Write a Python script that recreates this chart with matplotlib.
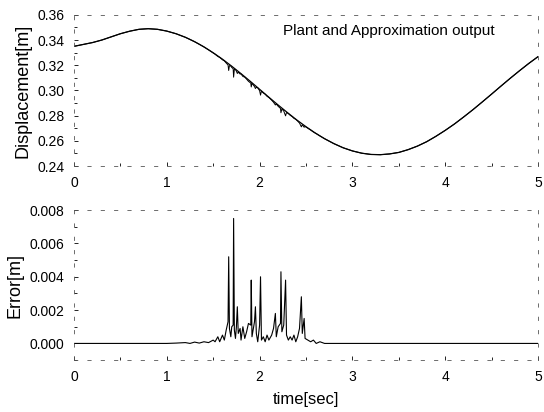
import matplotlib
matplotlib.use("Agg")
import matplotlib.pyplot as plt
import numpy as np
from matplotlib.ticker import MultipleLocator

plt.rcParams['font.family'] = ['Liberation Sans', 'DejaVu Sans']

# plant output, every 0.1 s
plant_t = [0.0, 0.1, 0.2, 0.3, 0.4, 0.5, 0.6, 0.7, 0.8, 0.9,
           1.0, 1.1, 1.2, 1.3, 1.4, 1.5, 1.6, 1.7, 1.8, 1.9,
           2.0, 2.1, 2.2, 2.3, 2.4, 2.5, 2.6, 2.7, 2.8, 2.9,
           3.0, 3.1, 3.2, 3.3, 3.4, 3.5, 3.6, 3.7, 3.8, 3.9,
           4.0, 4.1, 4.2, 4.3, 4.4, 4.5, 4.6, 4.7, 4.8, 4.9, 5.0]
plant_y = [0.3350, 0.3365, 0.3380, 0.3400, 0.3425, 0.3450, 0.3470, 0.3485, 0.3490, 0.3485,
           0.3471, 0.3450, 0.3422, 0.3387, 0.3346, 0.3299, 0.3248, 0.3192, 0.3133, 0.3072,
           0.3009, 0.2946, 0.2884, 0.2824, 0.2766, 0.2712, 0.2662, 0.2617, 0.2578, 0.2545,
           0.2520, 0.2502, 0.2492, 0.2490, 0.2496, 0.2508, 0.2530, 0.2558, 0.2593, 0.2636,
           0.2683, 0.2734, 0.2790, 0.2848, 0.2909, 0.2971, 0.3034, 0.3096, 0.3156, 0.3214, 0.3268]

# approximation error
err_t = [0.0, 0.5, 1.0, 1.1, 1.2, 1.25, 1.3, 1.35, 1.4, 1.45,
         1.5, 1.52, 1.55, 1.57, 1.6, 1.62, 1.64, 1.66, 1.667, 1.675,
         1.69, 1.70, 1.715, 1.72, 1.728, 1.74, 1.75, 1.76, 1.77, 1.79,
         1.80, 1.82, 1.84, 1.86, 1.88, 1.905, 1.91, 1.918, 1.93, 1.945,
         1.955, 1.965, 1.98, 2.00, 2.01, 2.02, 2.04, 2.06, 2.08, 2.10,
         2.13, 2.15, 2.17, 2.18, 2.20, 2.225, 2.23, 2.24, 2.26, 2.28,
         2.29, 2.31, 2.33, 2.35, 2.37, 2.39, 2.41, 2.43, 2.45, 2.46,
         2.48, 2.49, 2.52, 2.55, 2.58, 2.61, 2.65, 2.7, 5.0]
err_v = [0.0, 0.0, 0.0, 0.00002, 0.00005, 0.0, 0.00008, 0.00002, 0.0001, 0.00005,
         0.0002, 0.0001, 0.0004, 0.0001, 0.0005, 0.0002, 0.0008, 0.0013, 0.0052, 0.0009,
         0.0004, 0.0010, 0.0011, 0.0075, 0.0008, 0.0003, 0.0010, 0.0022, 0.0006, 0.0009,
         0.0002, 0.0010, 0.0003, 0.0007, 0.0012, 0.0011, 0.0038, 0.0004, 0.0008, 0.0013,
         0.0022, 0.0006, 0.0001, 0.0011, 0.0040, 0.0002, 0.0004, 0.0001, 0.0005, 0.0002,
         0.0005, 0.0009, 0.0018, 0.0004, 0.0010, 0.0012, 0.0043, 0.0007, 0.0011, 0.0038,
         0.0005, 0.0002, 0.0004, 0.0002, 0.0005, 0.0001, 0.0004, 0.0009, 0.0028, 0.0006,
         0.0015, 0.0003, 0.0002, 0.0001, 0.0002, 0.0, 0.0001, 0.0, 0.0]

# approximation = plant minus error, on the union of both time grids
t_all = np.union1d(plant_t, err_t)
approx_y = np.interp(t_all, plant_t, plant_y) - np.interp(t_all, err_t, err_v)

fig = plt.figure(figsize=(5.44, 4.12), dpi=100)
ax1 = fig.add_axes([0.136, 0.597, 0.853, 0.367])
ax2 = fig.add_axes([0.136, 0.126, 0.853, 0.364])

ax1.plot(plant_t, plant_y, color='black', lw=0.9)
ax1.plot(t_all, approx_y, color='black', lw=0.7)
ax2.plot(err_t, err_v, color='black', lw=0.8)

ax1.set_xlim(0, 5)
ax1.set_ylim(0.24, 0.36)
ax2.set_xlim(0, 5)
ax2.set_ylim(-0.001, 0.008)

ax1.yaxis.set_major_locator(MultipleLocator(0.02))
ax1.yaxis.set_minor_locator(MultipleLocator(0.01))
ax1.yaxis.set_major_formatter(plt.FormatStrFormatter('%.2f'))
ax2.set_yticks([0.0, 0.002, 0.004, 0.006, 0.008])
ax2.yaxis.set_minor_locator(MultipleLocator(0.001))
ax2.yaxis.set_major_formatter(plt.FormatStrFormatter('%.3f'))

for ax in (ax1, ax2):
    ax.xaxis.set_major_locator(MultipleLocator(1))
    ax.xaxis.set_minor_locator(MultipleLocator(0.5))
    ax.tick_params(direction='in', length=3, width=0.6, labelsize=10, pad=7)
    ax.tick_params(which='minor', direction='in', length=2, width=0.6)
    for s in ax.spines.values():
        s.set_linestyle((0, (4, 12)))
        s.set_linewidth(0.6)
        s.set_color('#555555')

ax1.set_ylabel('Displacement[m]', fontsize=13)
ax2.set_ylabel('Error[m]', fontsize=13)
ax2.set_xlabel('time[sec]', fontsize=12, labelpad=6)
ax1.text(0.907, 0.894, 'Plant and Approximation output', transform=ax1.transAxes,
         ha='right', va='center', fontsize=11)

fig.savefig('out.png', dpi=100)
